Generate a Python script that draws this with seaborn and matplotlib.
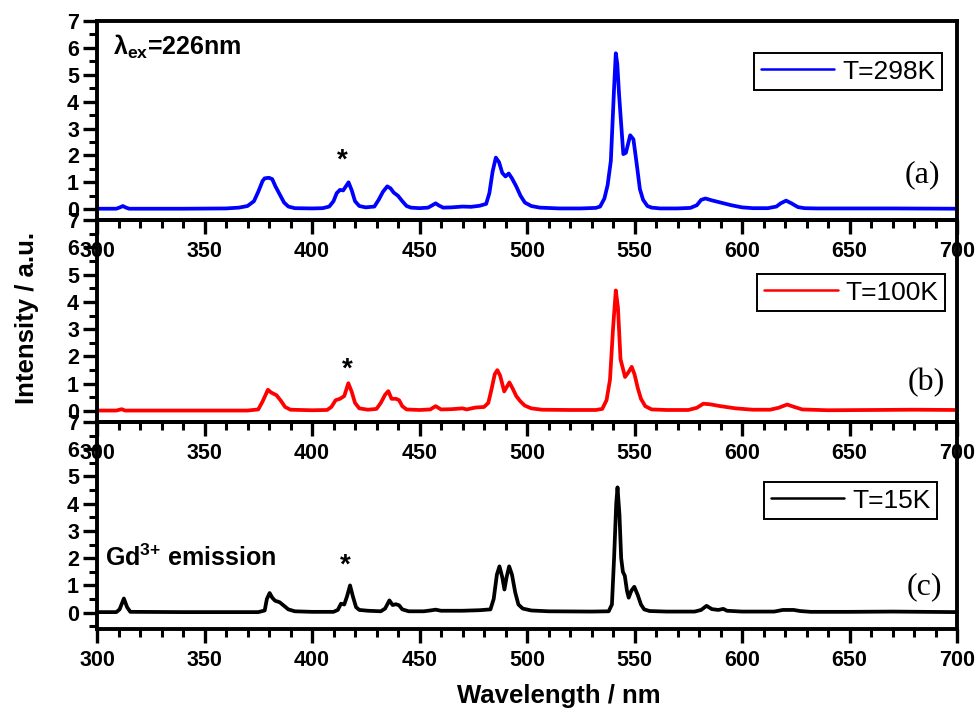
import matplotlib
matplotlib.use("Agg")
import matplotlib.pyplot as plt
from matplotlib.ticker import MultipleLocator
import seaborn as sns
import pandas as pd

# Emission spectra (wavelength in nm, intensity in a.u.)
wl_298 = [300, 309, 311, 312, 313.5, 315, 340, 360, 366, 370, 373, 375, 377, 378, 380, 381.5,
          383, 385, 387, 389, 392, 400, 405, 408, 410, 411.5, 413, 414.5, 416, 417, 418.5, 420,
          422, 425, 429, 431, 433, 435, 436.5, 438, 440, 442, 444, 446, 450, 454, 456, 457.5,
          459, 461, 465, 470, 474, 478, 481, 482.5, 484, 485.5, 487, 488.5, 490, 491.5, 493,
          495, 497, 499, 502, 506, 515, 525, 532, 534, 536, 537.5, 539, 540.5, 541.3, 542,
          542.8, 543.5, 544.8, 546, 548, 549.5, 551, 552.5, 554, 556, 558, 562, 570, 576, 579,
          581, 583, 586, 590, 595, 600, 605, 612, 616, 618, 620.5, 623, 626, 629, 635, 650,
          670, 700]
int_298 = [0.02, 0.02, 0.08, 0.12, 0.06, 0.02, 0.02, 0.03, 0.06, 0.12, 0.30, 0.65, 1.05, 1.15,
           1.17, 1.12, 0.85, 0.55, 0.25, 0.10, 0.04, 0.03, 0.04, 0.10, 0.30, 0.60, 0.72, 0.70,
           0.88, 1.00, 0.70, 0.30, 0.12, 0.07, 0.10, 0.35, 0.65, 0.85, 0.78, 0.62, 0.50, 0.30,
           0.12, 0.06, 0.04, 0.06, 0.15, 0.22, 0.14, 0.06, 0.07, 0.10, 0.09, 0.13, 0.20, 0.60,
           1.40, 1.92, 1.75, 1.35, 1.22, 1.33, 1.15, 0.85, 0.50, 0.25, 0.12, 0.06, 0.03, 0.03,
           0.05, 0.10, 0.40, 0.90, 1.80, 4.50, 5.80, 5.40, 4.30, 3.50, 2.05, 2.10, 2.75, 2.60,
           1.70, 0.75, 0.35, 0.12, 0.06, 0.03, 0.03, 0.05, 0.15, 0.35, 0.40, 0.33, 0.25, 0.15,
           0.07, 0.04, 0.04, 0.10, 0.22, 0.32, 0.22, 0.08, 0.04, 0.03, 0.03, 0.03, 0.02]

wl_100 = [300, 309, 311.5, 313, 340, 370, 375, 377, 379.5, 381, 383.5, 385.5, 387.5, 390, 400,
          407, 409, 411, 413, 415, 416.9, 418.5, 420, 422, 426, 430, 432, 434, 435.5, 437, 439,
          440.5, 442, 444, 450, 455, 457.5, 460, 465, 470, 472, 476, 480, 482, 483.5, 485,
          486.2, 487.5, 489.4, 491.8, 493.5, 495, 497, 499, 502, 507, 520, 532, 535, 537,
          538.6, 540, 541.3, 542.3, 543.5, 545.6, 547, 548.7, 550, 551.5, 553, 555, 558, 565,
          575, 579, 582, 585, 590, 597, 605, 613, 617, 621, 624, 628, 640, 660, 680, 700]
int_100 = [0.02, 0.02, 0.07, 0.02, 0.02, 0.02, 0.06, 0.35, 0.78, 0.68, 0.58, 0.38, 0.15, 0.05,
           0.03, 0.04, 0.15, 0.40, 0.45, 0.55, 1.02, 0.70, 0.30, 0.10, 0.05, 0.08, 0.30, 0.60,
           0.73, 0.45, 0.45, 0.40, 0.18, 0.06, 0.04, 0.06, 0.18, 0.06, 0.07, 0.10, 0.06, 0.13,
           0.15, 0.30, 0.80, 1.35, 1.50, 1.30, 0.72, 1.05, 0.80, 0.55, 0.35, 0.20, 0.10, 0.05,
           0.04, 0.04, 0.08, 0.40, 1.15, 3.00, 4.42, 3.80, 1.90, 1.25, 1.40, 1.62, 1.35, 0.85,
           0.45, 0.18, 0.06, 0.04, 0.04, 0.12, 0.27, 0.25, 0.18, 0.10, 0.05, 0.05, 0.12, 0.24,
           0.16, 0.06, 0.03, 0.04, 0.05, 0.04]

wl_15 = [300, 309, 310.5, 312.5, 314, 315.5, 340, 375, 378, 379, 380.3, 381.5, 382.8, 385, 387,
         389, 392, 400, 410, 412, 413.5, 415, 416.3, 417.7, 419, 420.5, 422, 426, 432, 434, 436,
         437.5, 439, 440.5, 442, 445, 452, 455, 457.5, 460, 470, 478, 483, 484.5, 486, 487.2,
         488.5, 489.5, 490.5, 491.7, 493, 494.5, 496, 498, 502, 510, 530, 538, 539.5, 540.5,
         541.5, 542.1, 543, 543.8, 544.6, 545.5, 546.5, 547.3, 548.5, 549.9, 551.5, 553, 554.5,
         557, 565, 578, 581, 583.5, 586, 589, 591.3, 593, 600, 615, 619, 624, 627, 632, 650,
         670, 700]
int_15 = [0.02, 0.02, 0.12, 0.52, 0.20, 0.03, 0.02, 0.02, 0.08, 0.50, 0.72, 0.55, 0.44, 0.38,
          0.25, 0.12, 0.05, 0.03, 0.03, 0.10, 0.33, 0.30, 0.60, 1.00, 0.60, 0.20, 0.10, 0.07,
          0.05, 0.15, 0.45, 0.28, 0.31, 0.27, 0.12, 0.05, 0.05, 0.08, 0.11, 0.07, 0.07, 0.09,
          0.12, 0.50, 1.40, 1.70, 1.30, 0.85, 1.30, 1.70, 1.40, 0.75, 0.30, 0.15, 0.08, 0.05,
          0.04, 0.05, 0.30, 2.00, 4.00, 4.60, 3.60, 2.00, 1.50, 1.35, 0.80, 0.55, 0.80, 0.95,
          0.65, 0.30, 0.12, 0.06, 0.04, 0.04, 0.10, 0.25, 0.13, 0.10, 0.14, 0.07, 0.04, 0.04,
          0.10, 0.10, 0.06, 0.03, 0.03, 0.04, 0.02]

series_labels = ["T=298K", "T=100K", "T=15K"]
series_colors = ["#0000FF", "#FF0000", "#000000"]
panel_tags = ["(a)", "(b)", "(c)"]
x_ticks = [300, 350, 400, 450, 500, 550, 600, 650, 700]
y_ticks = [0, 1, 2, 3, 4, 5, 6, 7]

spectra = [(wl_298, int_298), (wl_100, int_100), (wl_15, int_15)]

sns.set_theme(style="ticks")
plt.rcParams["font.family"] = ["Liberation Sans", "DejaVu Sans"]
plt.rcParams["font.weight"] = "bold"
plt.rcParams["text.color"] = "black"
plt.rcParams["axes.labelcolor"] = "black"
plt.rcParams["xtick.color"] = "black"
plt.rcParams["ytick.color"] = "black"
plt.rcParams["mathtext.fontset"] = "custom"
plt.rcParams["mathtext.rm"] = "Liberation Sans:bold"
plt.rcParams["mathtext.it"] = "Liberation Sans:bold"
plt.rcParams["mathtext.bf"] = "Liberation Sans:bold"

W_PX, H_PX = 979, 713
fig = plt.figure(figsize=(W_PX / 100, H_PX / 100), dpi=100)

left_px, right_px = 97, 957
panel_px = [(21, 220, -0.4), (220, 422, -0.4), (422, 629, -0.6)]
legend_anchor = [(0.9826, 0.839), (0.986, 0.733), (0.977, 0.71)]
tag_pos = [(0.960, 0.226), (0.964, 0.193), (0.962, 0.203)]
star_pos = [(414.2, 1.55), (416.3, 1.28), (415.5, 1.48)]

axes = []
for i, ((wl, inten), (top, bot, ymin)) in enumerate(zip(spectra, panel_px)):
    ax = fig.add_axes([left_px / W_PX, 1 - bot / H_PX,
                       (right_px - left_px) / W_PX, (bot - top) / H_PX])
    ax.set_facecolor("none")
    df = pd.DataFrame({"wavelength": wl, "intensity": inten})
    sns.lineplot(data=df, x="wavelength", y="intensity", ax=ax, sort=False,
                 estimator=None, color=series_colors[i], lw=2.7,
                 label=series_labels[i])
    ax.set_xlim(300, 700)
    ax.set_ylim(ymin, 7)
    ax.set_xticks(x_ticks)
    ax.set_yticks(y_ticks)
    ax.xaxis.set_minor_locator(MultipleLocator(10))
    ax.yaxis.set_minor_locator(MultipleLocator(0.5))
    ax.tick_params(axis="both", which="major", direction="out", length=10,
                   width=2.4, labelsize=15.5, pad=3, colors="black")
    ax.tick_params(axis="both", which="minor", direction="out", length=5.5,
                   width=2.2, colors="black")
    ax.tick_params(axis="x", which="major", pad=5)
    ax.tick_params(top=False, right=False, which="both")
    for lbl in ax.get_xticklabels() + ax.get_yticklabels():
        lbl.set_fontweight("bold")
    for sp in ax.spines.values():
        sp.set_visible(True)
        sp.set_linewidth(2.8)
        sp.set_color("black")
    ax.set_xlabel("")
    ax.set_ylabel("")
    leg = ax.legend(loc="upper right", bbox_to_anchor=legend_anchor[i],
                    borderaxespad=0, fancybox=False, frameon=True,
                    prop={"family": "Liberation Sans", "weight": "normal", "size": 19},
                    handlelength=2.8, handletextpad=0.3, borderpad=0.25)
    leg.get_frame().set_edgecolor("black")
    leg.get_frame().set_linewidth(1.4)
    leg.get_frame().set_facecolor("white")
    leg.get_frame().set_alpha(1)
    for ln in leg.get_lines():
        ln.set_linewidth(1.8)
    for t in leg.get_texts():
        t.set_color("black")
    ax.text(tag_pos[i][0], tag_pos[i][1], panel_tags[i], transform=ax.transAxes,
            ha="center", va="center", fontsize=23, fontweight="normal",
            family="Liberation Serif", color="black")
    ax.text(star_pos[i][0], star_pos[i][1], "*", ha="center", va="baseline",
            fontsize=20, fontweight="bold", color="black")
    axes.append(ax)

axes[0].text(0.0186, 0.869, r"λ$_{\rm ex}$=226nm", transform=axes[0].transAxes,
             ha="left", va="center", fontsize=18, fontweight="bold", color="black")
axes[2].text(0.0093, 0.343, r"Gd$^{3{+}}$ emission", transform=axes[2].transAxes,
             ha="left", va="center", fontsize=18, fontweight="bold", color="black")

fig.text(27 / W_PX, 1 - 318 / H_PX, "Intensity / a.u.", rotation=90,
         ha="center", va="center", fontsize=18.5, fontweight="bold", color="black")
fig.text(559 / W_PX, 1 - 703 / H_PX, "Wavelength / nm", ha="center",
         va="baseline", fontsize=18.5, fontweight="bold", color="black")

fig.savefig("out.png", dpi=100, facecolor="white")
